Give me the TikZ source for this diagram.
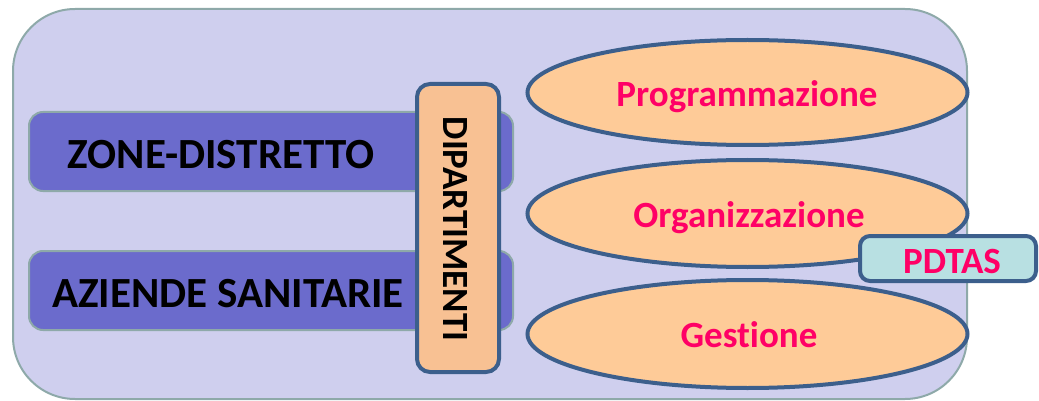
\documentclass[tikz,border=0pt]{standalone}
\usepackage{fontspec}
\setmainfont[Ligatures=NoCommon]{Carlito}
\usetikzlibrary{shapes.geometric}
\definecolor{outerfill}{HTML}{CFCFEE}
\definecolor{grayline}{HTML}{8EA9A9}
\definecolor{bluebox}{HTML}{6B6BCC}
\definecolor{darkline}{HTML}{3C5F8C}
\definecolor{peachA}{HTML}{F8C193}
\definecolor{peachB}{HTML}{FECB98}
\definecolor{cyanbox}{HTML}{B8E0E2}
\definecolor{pinktxt}{HTML}{FF0066}
\tikzset{
  bigfont/.style={font=\fontsize{43}{48}\selectfont\bfseries},
  midfont/.style={font=\fontsize{37}{42}\selectfont\bfseries},
  bluebar/.style={draw=grayline, line width=2pt, fill=bluebox, rounded corners=14pt},
  oval/.style={draw=darkline, line width=4pt, fill=peachB},
  pinklabel/.style={midfont, text=pinktxt, anchor=base, inner sep=0pt},
  blacklabel/.style={bigfont, text=black, anchor=base, inner sep=0pt}
}
\begin{document}
\begin{tikzpicture}[x=1pt,y=-1pt]
\useasboundingbox (0,0) rectangle (1039,401);
% outer container
\draw[draw=grayline, line width=2pt, fill=outerfill, rounded corners=62pt] (13,9) rectangle (967,399);
% blue bars
\draw[bluebar] (29,112) rectangle (513,191);
\draw[bluebar] (29,251) rectangle (513,330);
\node[blacklabel] (zone) at (221,168) {ZONE-DISTRETTO};
\node[blacklabel] (aziende) at (228,307) {AZIENDE SANITARIE};
% dipartimenti
\draw[draw=darkline, line width=4pt, fill=peachA, rounded corners=13pt] (417,84) rectangle (499,372);
\node[midfont, rotate=-90, anchor=base, inner sep=0pt] (dip) at (443,229) {DIPARTIMENTI};
% ellipses
\draw[oval] (747.5,92.5) ellipse [x radius=220, y radius=52.5];
\node[pinklabel] (prog) at (747,107) {Programmazione};
\draw[oval] (747.5,213.5) ellipse [x radius=220, y radius=53.5];
\node[pinklabel] (org) at (749,227) {Organizzazione};
\draw[oval] (747.5,334) ellipse [x radius=220, y radius=54];
\node[pinklabel] (gest) at (749,347) {Gestione};
% PDTAS
\draw[draw=darkline, line width=4pt, fill=cyanbox, rounded corners=10pt] (860,236) rectangle (1036,281);
\node[pinklabel] (pdtas) at (952,273) {PDTAS};
\end{tikzpicture}
\end{document}
